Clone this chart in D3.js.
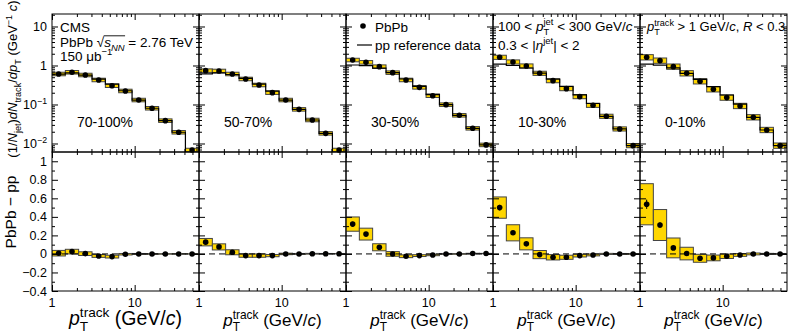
<!DOCTYPE html>
<html>
<head>
<meta charset="utf-8">
<script src="https://cdn.jsdelivr.net/npm/d3@7"></script>
<style>
  body { margin: 0; background: #fff; }
  svg { display: block; font-family: "Liberation Sans", Arial, Helvetica, sans-serif; }
</style>
</head>
<body>
<svg id="chart" width="789" height="334"></svg>
<script>
// track pT bin edges (GeV/c)
const binEdges = [1, 1.45, 2.1, 3.05, 4.42, 6.41, 9.3, 13.5, 19.5, 28.3, 41.1, 59.6];
const centralities = ['70-100%', '50-70%', '30-50%', '10-30%', '0-10%'];

// (1/Njet) dNtrack/dpT, PbPb, one row per centrality
const pbpbValues = [
  [0.605, 0.67, 0.57, 0.425, 0.303, 0.222, 0.130, 0.080, 0.0385, 0.0194, 0.0068],
  [0.737, 0.723, 0.605, 0.451, 0.316, 0.201, 0.130, 0.075, 0.040, 0.0182, 0.0068],
  [1.38, 1.205, 0.933, 0.655, 0.425, 0.275, 0.168, 0.099, 0.0528, 0.0245, 0.0092],
  [1.62, 1.23, 0.971, 0.63, 0.408, 0.255, 0.159, 0.0953, 0.0498, 0.0236, 0.0088],
  [1.62, 1.33, 0.933, 0.63, 0.393, 0.245, 0.150, 0.0916, 0.0469, 0.0222, 0.0088]
];
// pp reference histogram
const ppValues = [
  [0.597, 0.645, 0.567, 0.447, 0.332, 0.225, 0.130, 0.080, 0.0385, 0.0194, 0.003],
  [0.61, 0.647, 0.587, 0.469, 0.334, 0.219, 0.130, 0.075, 0.040, 0.0182, 0.003],
  [1.03, 0.99, 0.86, 0.655, 0.45, 0.293, 0.179, 0.099, 0.0528, 0.0245, 0.0092],
  [1.08, 1.0, 0.862, 0.637, 0.444, 0.291, 0.177, 0.106, 0.0498, 0.0236, 0.0088],
  [1.08, 1.02, 0.868, 0.626, 0.44, 0.288, 0.175, 0.1026, 0.0469, 0.0222, 0.0088]
];
// relative systematic uncertainty of PbPb spectra
const pbpbSys = [0.11, 0.11, 0.11, 0.13, 0.17];

// PbPb - pp
const diffValues = [
  [0.008, 0.025, 0.003, -0.022, -0.029, -0.003, 0, 0, 0, 0, 0],
  [0.127, 0.076, 0.018, -0.018, -0.018, -0.018, 0, 0, 0.002, 0.002, 0.002],
  [0.322, 0.214, 0.072, 0, -0.025, -0.018, -0.011, 0, 0, 0.004, 0.004],
  [0.5, 0.228, 0.109, -0.007, -0.036, -0.036, -0.018, -0.011, 0, 0, 0],
  [0.536, 0.312, 0.065, 0.004, -0.047, -0.043, -0.025, -0.011, 0, 0, 0]
];
const diffSys = [
  [0.03, 0.025, 0.02, 0.015, 0.015, 0.008, 0.005, 0.004, 0.003, 0.002, 0.002],
  [0.04, 0.033, 0.027, 0.018, 0.018, 0.012, 0.008, 0.005, 0.004, 0.003, 0.002],
  [0.077, 0.064, 0.038, 0.025, 0.015, 0.01, 0.008, 0.005, 0.004, 0.003, 0.002],
  [0.115, 0.087, 0.065, 0.044, 0.029, 0.022, 0.015, 0.01, 0.006, 0.005, 0.004],
  [0.222, 0.167, 0.107, 0.068, 0.043, 0.031, 0.024, 0.015, 0.01, 0.006, 0.005]
];
const diffStat = [
  [0.01, 0.008, 0.006, 0.005, 0.004, 0.003, 0.002, 0.002, 0.001, 0.001, 0.001],
  [0.015, 0.01, 0.008, 0.006, 0.004, 0.003, 0.002, 0.002, 0.001, 0.001, 0.001],
  [0.025, 0.015, 0.01, 0.006, 0.004, 0.003, 0.002, 0.002, 0.001, 0.001, 0.001],
  [0.03, 0.02, 0.012, 0.008, 0.005, 0.003, 0.002, 0.002, 0.001, 0.001, 0.001],
  [0.05, 0.03, 0.015, 0.008, 0.005, 0.003, 0.002, 0.002, 0.001, 0.001, 0.001]
];

const xMajor = [1, 10];
const xMinor = [2, 3, 4, 5, 6, 7, 8, 9, 20, 30, 40, 50];
const topMajor = [0.01, 0.1, 1, 10];
const topLabels = [['10', '\u22122'], ['10', '\u22121'], ['1', ''], ['10', '']];
const bottomMajor = [-0.4, -0.2, 0, 0.2, 0.4, 0.6, 0.8, 1];
const bottomLabels = ['\u22120.4', '\u22120.2', '0', '0.2', '0.4', '0.6', '0.8', '1'];
const bottomMinor = [-0.3, -0.1, 0.1, 0.3, 0.5, 0.7, 0.9];

const yellow = '#ffd600';
const boxLine = '#444';

const left0 = 52, panelW = 147;
const yTopEdge = 14, yMid = 152, yBottomEdge = 291;

const svg = d3.select('#chart');

const yTop = d3.scaleLog().domain([0.00605, 20.9]).range([yMid, yTopEdge]);
const yBot = d3.scaleLinear().domain([-0.4, 1.1]).range([yBottomEdge, yMid]);

const topMinor = [];
[0.001, 0.01, 0.1, 1, 10].forEach(d => {
  for (let k = 2; k <= 9; k++) {
    const v = d * k;
    if (v > 0.00605 && v < 20.9) topMinor.push(v);
  }
});

// text with sub/superscripts; parts = [text, opts]
function rich(sel, parts, fs) {
  let cur = 0, prev = null;
  const spans = [];
  parts.forEach(([t, o]) => {
    o = o || {};
    const ts = sel.append('tspan').text(t);
    let target = 0, size = fs;
    if (o.sub) { target = fs * 0.3; size = fs * 0.7; }
    if (o.sup) { target = -fs * 0.42; size = fs * 0.7; }
    if (o.it) ts.attr('font-style', 'italic');
    ts.attr('font-size', size).attr('dy', target - cur);
    if (o.stack && prev) ts.attr('dx', -prev.node().getComputedTextLength());
    cur = target;
    prev = ts;
    spans.push(ts);
  });
  return spans;
}

function addAxes(g, x, y, major, minor, h0, h1, x0) {
  const parts = [
    [d3.axisBottom(x).tickValues(xMajor).tickSize(-6), `translate(0,${h1})`],
    [d3.axisBottom(x).tickValues(xMinor).tickSize(-3), `translate(0,${h1})`],
    [d3.axisTop(x).tickValues(xMajor).tickSize(-6), `translate(0,${h0})`],
    [d3.axisTop(x).tickValues(xMinor).tickSize(-3), `translate(0,${h0})`],
    [d3.axisLeft(y).tickValues(major).tickSize(-6), `translate(${x0},0)`],
    [d3.axisLeft(y).tickValues(minor).tickSize(-3), `translate(${x0},0)`],
    [d3.axisRight(y).tickValues(major).tickSize(-6), `translate(${x0 + panelW},0)`],
    [d3.axisRight(y).tickValues(minor).tickSize(-3), `translate(${x0 + panelW},0)`]
  ];
  parts.forEach(([ax, tr]) => {
    const a = g.append('g').attr('transform', tr).call(ax.tickFormat(''));
    a.select('.domain').remove();
    a.selectAll('line').attr('stroke', '#000');
  });
  g.append('rect')
    .attr('x', x0).attr('y', h0)
    .attr('width', panelW).attr('height', h1 - h0)
    .attr('fill', 'none').attr('stroke', '#000').attr('stroke-width', 1);
}

const bins = d3.range(binEdges.length - 1);

centralities.forEach((cent, p) => {
  const x0 = left0 + p * panelW;
  const x = d3.scaleLog().domain([1, 60]).range([x0, x0 + panelW]);
  const center = i => Math.sqrt(binEdges[i] * binEdges[i + 1]);

  // ---------- top: spectra ----------
  const gt = svg.append('g');
  svg.append('clipPath').attr('id', 'ct' + p).append('rect')
    .attr('x', x0).attr('y', yTopEdge).attr('width', panelW).attr('height', yMid - yTopEdge);
  const gtc = gt.append('g').attr('clip-path', `url(#ct${p})`);

  gtc.selectAll('rect.sys').data(bins).enter().append('rect')
    .attr('x', i => x(binEdges[i]))
    .attr('width', i => x(binEdges[i + 1]) - x(binEdges[i]))
    .attr('y', i => yTop(pbpbValues[p][i] * (1 + pbpbSys[p])))
    .attr('height', i => yTop(pbpbValues[p][i] / (1 + pbpbSys[p])) - yTop(pbpbValues[p][i] * (1 + pbpbSys[p])))
    .attr('fill', yellow).attr('stroke', boxLine).attr('stroke-width', 1);

  const stepData = bins.map(i => [binEdges[i], ppValues[p][i]])
    .concat([[binEdges[binEdges.length - 1], ppValues[p][ppValues[p].length - 1]]]);
  gtc.append('path')
    .datum(stepData)
    .attr('d', d3.line().x(d => x(d[0])).y(d => yTop(d[1])).curve(d3.curveStepAfter))
    .attr('fill', 'none').attr('stroke', '#000').attr('stroke-width', 1.2);

  gt.selectAll('circle').data(bins).enter().append('circle')
    .attr('cx', i => x(center(i)))
    .attr('cy', i => yTop(pbpbValues[p][i]))
    .attr('r', 2.8).attr('fill', '#000');

  addAxes(gt, x, yTop, topMajor, topMinor, yTopEdge, yMid, x0);

  gt.append('text')
    .attr('x', x0 + 25).attr('y', 127)
    .attr('font-size', 14)
    .text(cent);

  // ---------- bottom: difference ----------
  const gb = svg.append('g');
  svg.append('clipPath').attr('id', 'cb' + p).append('rect')
    .attr('x', x0).attr('y', yMid).attr('width', panelW).attr('height', yBottomEdge - yMid);
  const gbc = gb.append('g').attr('clip-path', `url(#cb${p})`);

  gbc.selectAll('rect.sys').data(bins).enter().append('rect')
    .attr('x', i => x(binEdges[i]))
    .attr('width', i => x(binEdges[i + 1]) - x(binEdges[i]))
    .attr('y', i => yBot(diffValues[p][i] + diffSys[p][i]))
    .attr('height', i => yBot(diffValues[p][i] - diffSys[p][i]) - yBot(diffValues[p][i] + diffSys[p][i]))
    .attr('fill', yellow).attr('stroke', boxLine).attr('stroke-width', 1);

  gbc.append('line')
    .attr('x1', x0).attr('x2', x0 + panelW)
    .attr('y1', yBot(0)).attr('y2', yBot(0))
    .attr('stroke', '#000').attr('stroke-dasharray', '6,4');

  gb.selectAll('line.err').data(bins).enter().append('line')
    .attr('x1', i => x(center(i))).attr('x2', i => x(center(i)))
    .attr('y1', i => yBot(diffValues[p][i] + diffStat[p][i]))
    .attr('y2', i => yBot(diffValues[p][i] - diffStat[p][i]))
    .attr('stroke', '#000');

  gb.selectAll('circle').data(bins).enter().append('circle')
    .attr('cx', i => x(center(i)))
    .attr('cy', i => yBot(diffValues[p][i]))
    .attr('r', 2.8).attr('fill', '#000');

  addAxes(gb, x, yBot, bottomMajor, bottomMinor, yMid, yBottomEdge, x0);

  // x tick labels
  gb.selectAll('text.xt').data(xMajor).enter().append('text')
    .attr('x', d => x(d)).attr('y', 307)
    .attr('text-anchor', 'middle').attr('font-size', 12.5)
    .text(d => d);

  // x title
  const xt = gb.append('text')
    .attr('x', x0 + panelW / 2).attr('y', p === 0 ? 325 : 326)
    .attr('text-anchor', 'middle');
  const fsx = p === 0 ? 19.5 : 17;
  rich(xt, [['p', { it: true }], ['T', { sub: true }], ['track', { sup: true, stack: true }], [' (GeV/'], ['c', { it: true }], [')']], fsx);
});

// y tick labels, first column
const topLab = svg.append('g');
topMajor.forEach((v, k) => {
  const t = topLab.append('text')
    .attr('x', 47).attr('y', yTop(v) + 4.5)
    .attr('text-anchor', 'end');
  if (topLabels[k][1]) rich(t, [[topLabels[k][0]], [topLabels[k][1], { sup: true }]], 12.5);
  else t.attr('font-size', 12.5).text(topLabels[k][0]);
});
svg.selectAll('text.yb').data(bottomMajor).enter().append('text')
  .attr('x', 47).attr('y', d => yBot(d) + 4.5)
  .attr('text-anchor', 'end').attr('font-size', 12.5)
  .text((d, k) => bottomLabels[k]);

// y titles
const yt1 = svg.append('text')
  .attr('transform', 'translate(17,79) rotate(-90)')
  .attr('text-anchor', 'middle');
rich(yt1, [['(1/'], ['N', { it: true }], ['jet', { sub: true }], [')'], ['dN', { it: true }], ['track', { sub: true }],
  ['/'], ['dp', { it: true }], ['T', { sub: true }], [' (GeV'], ['\u22121', { sup: true }], [' '], ['c', { it: true }], [')']], 13);

svg.append('text')
  .attr('transform', 'translate(15.5,212) rotate(-90)')
  .attr('text-anchor', 'middle').attr('font-size', 15.5)
  .text('PbPb \u2212 pp');

// annotations, panel 1
const fsA = 13.5;
svg.append('text').attr('x', 60).attr('y', 31.5).attr('font-size', fsA).text('CMS');
const sq = rich(svg.append('text').attr('x', 60).attr('y', 46.5),
  [['PbPb  \u221A'], ['s', { it: true }], ['NN', { it: true, sub: true }], [' = 2.76 TeV']], fsA);
// bar of the square root over s_NN
const barX1 = sq[1].node().getStartPositionOfChar(0).x;
const barX2 = sq[2].node().getEndPositionOfChar(1).x;
svg.append('line')
  .attr('x1', barX1 - 0.5).attr('x2', barX2 + 0.5)
  .attr('y1', 35.8).attr('y2', 35.8)
  .attr('stroke', '#000').attr('stroke-width', 0.9);
rich(svg.append('text').attr('x', 60).attr('y', 61),
  [['150 \u03BCb'], ['\u22121', { sup: true }]], fsA);

// legend, panel 3
svg.append('circle').attr('cx', 363).attr('cy', 26).attr('r', 2.8).attr('fill', '#000');
svg.append('text').attr('x', 375).attr('y', 31.5).attr('font-size', fsA).text('PbPb');
svg.append('line').attr('x1', 357).attr('x2', 372).attr('y1', 45).attr('y2', 45).attr('stroke', '#000').attr('stroke-width', 1.2);
svg.append('text').attr('x', 375).attr('y', 50).attr('font-size', fsA).text('pp reference data');

// selection, panels 4 and 5
rich(svg.append('text').attr('x', 498).attr('y', 31),
  [['100 < '], ['p', { it: true }], ['T', { sub: true }], ['jet', { sup: true, stack: true }], [' < 300 GeV/'], ['c', { it: true }]], fsA);
rich(svg.append('text').attr('x', 498).attr('y', 50),
  [['0.3 < |'], ['\u03B7', { it: true }], ['jet', { sup: true }], ['| < 2']], fsA);
rich(svg.append('text').attr('x', 647).attr('y', 31),
  [['p', { it: true }], ['T', { sub: true }], ['track', { sup: true, stack: true }], [' > 1 GeV/'], ['c', { it: true }], [', '], ['R', { it: true }], [' < 0.3']], 13);
</script>
</body>
</html>
